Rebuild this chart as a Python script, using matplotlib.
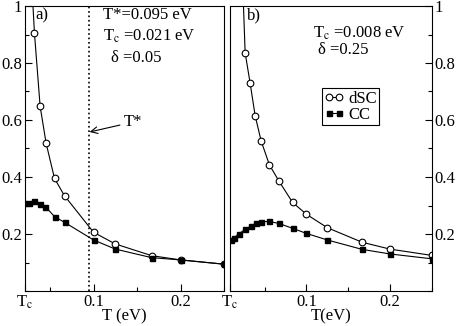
import numpy as np
import matplotlib
matplotlib.use('Agg')
import matplotlib.pyplot as plt
from matplotlib.ticker import MultipleLocator

plt.rcParams['font.family'] = ['Liberation Serif', 'DejaVu Serif']
plt.rcParams['mathtext.fontset'] = 'stix'
plt.rcParams['font.size'] = 12

# panel a) delta = 0.05
tc_a = 0.021
dsc_a_T = [0.0322, 0.0387, 0.0456, 0.0552, 0.0667, 0.1, 0.125, 0.1667, 0.2, 0.25]
dsc_a = [0.904, 0.648, 0.518, 0.395, 0.334, 0.206, 0.165, 0.124, 0.109, 0.094]
dsc_a_lineT = [0.0296] + dsc_a_T   # curve keeps going above the frame
dsc_a_line = [1.05] + dsc_a
cc_a_T = [0.0207, 0.0264, 0.0322, 0.0387, 0.0448, 0.0552, 0.0667, 0.1, 0.125, 0.1667, 0.2, 0.25]
cc_a = [0.308, 0.308, 0.317, 0.304, 0.296, 0.261, 0.241, 0.179, 0.147, 0.117, 0.109, 0.094]
tstar = 0.095

# panel b) delta = 0.25
tc_b = 0.008
dsc_b_T = [0.0265, 0.0325, 0.0385, 0.0456, 0.0555, 0.0667, 0.0833, 0.1, 0.125, 0.1667, 0.2, 0.25]
dsc_b = [0.836, 0.729, 0.615, 0.527, 0.443, 0.387, 0.311, 0.269, 0.222, 0.171, 0.147, 0.125]
dsc_b_lineT = [0.0239] + dsc_b_T
dsc_b_line = [1.05] + dsc_b
cc_b_T = [0.0098, 0.0126, 0.0186, 0.0265, 0.0333, 0.0393, 0.0456, 0.0555, 0.067, 0.0833, 0.1, 0.125, 0.1667, 0.2, 0.25]
cc_b = [0.179, 0.185, 0.2, 0.216, 0.228, 0.237, 0.243, 0.244, 0.237, 0.22, 0.202, 0.179, 0.146, 0.13, 0.113]

W, H = 457.0, 326.0
fig = plt.figure(figsize=(W/100, H/100), dpi=100)
axa = fig.add_axes([24.7/W, (H-291)/H, 199.6/W, 285/H])
axb = fig.add_axes([229.7/W, (H-291)/H, 202/W, 285/H])

lw = 0.8
for ax, tc, lT, lY, dT, dY, cT, cY in [
        (axa, tc_a, dsc_a_lineT, dsc_a_line, dsc_a_T, dsc_a, cc_a_T, cc_a),
        (axb, tc_b, dsc_b_lineT, dsc_b_line, dsc_b_T, dsc_b, cc_b_T, cc_b)]:
    ax.plot(lT, lY, '-', color='k', lw=lw)
    ax.plot(dT, dY, 'o', mfc='white', mec='k', ms=4.8, mew=0.8, label='dSC')
    ax.plot(cT, cY, 's-', color='k', lw=lw, ms=3.6, label='CC')
    ax.set_xlim(tc, 0.25)
    ax.set_ylim(0, 1)
    ax.set_xticks([tc, 0.1, 0.2])
    ax.set_xticklabels(['T$_\\mathrm{c}$', '0.1', '0.2'])
    ax.xaxis.set_minor_locator(MultipleLocator(0.05))
    ax.set_yticks([0.2, 0.4, 0.6, 0.8, 1.0])
    ax.set_yticklabels(['0.2', '0.4', '0.6', '0.8', '1'])
    ax.yaxis.set_minor_locator(MultipleLocator(0.1))
    ax.tick_params(which='both', direction='in', top=False, width=0.8)
    ax.tick_params(which='major', length=5, labelsize=12, pad=2)
    ax.tick_params(which='minor', length=3)
    for s in ax.spines.values():
        s.set_linewidth(0.8)

axa.tick_params(which='both', left=True, right=False)
axb.tick_params(which='both', left=False, right=True, labelleft=False, labelright=True)

axa.axvline(tstar, color='k', ls=':', lw=1.2)
axa.annotate('T*', xy=(0.0955, 0.558), xytext=(0.135, 0.593), va='center', ha='left',
             arrowprops=dict(arrowstyle='->', color='k', lw=0.8, shrinkA=1, shrinkB=0))

axa.set_xlabel('T (eV)', labelpad=-2)
axb.set_xlabel('T(eV)', labelpad=-2)

axa.text(0.052, 0.968, 'a)', transform=axa.transAxes, va='center')
axa.text(0.393, 0.968, 'T*=0.095 eV', transform=axa.transAxes, va='center')
axa.text(0.393, 0.895, 'T$_\\mathrm{c}$ =0.021 eV', transform=axa.transAxes, va='center')
axa.text(0.432, 0.818, '\u03b4 =0.05', transform=axa.transAxes, va='center')

axb.text(0.086, 0.968, 'b)', transform=axb.transAxes, va='center')
axb.text(0.414, 0.905, 'T$_\\mathrm{c}$ =0.008 eV', transform=axb.transAxes, va='center')
axb.text(0.439, 0.846, '\u03b4 =0.25', transform=axb.transAxes, va='center')

h1, = axb.plot([], [], 'o-', color='k', mfc='white', mec='k', ms=4.8, lw=lw, mew=0.8)
h2, = axb.plot([], [], 's-', color='k', ms=3.6, lw=lw)
leg = axb.legend([h1, h2], ['dSC', 'CC'], loc='upper left', bbox_to_anchor=(0.455, 0.712),
                 numpoints=2, handlelength=1.2, handletextpad=0.25, labelspacing=0.0,
                 borderpad=0.15, borderaxespad=0, fancybox=False, framealpha=1, fontsize=12)
leg.get_frame().set_edgecolor('k')
leg.get_frame().set_linewidth(0.8)

fig.savefig('out.png', dpi=100)
